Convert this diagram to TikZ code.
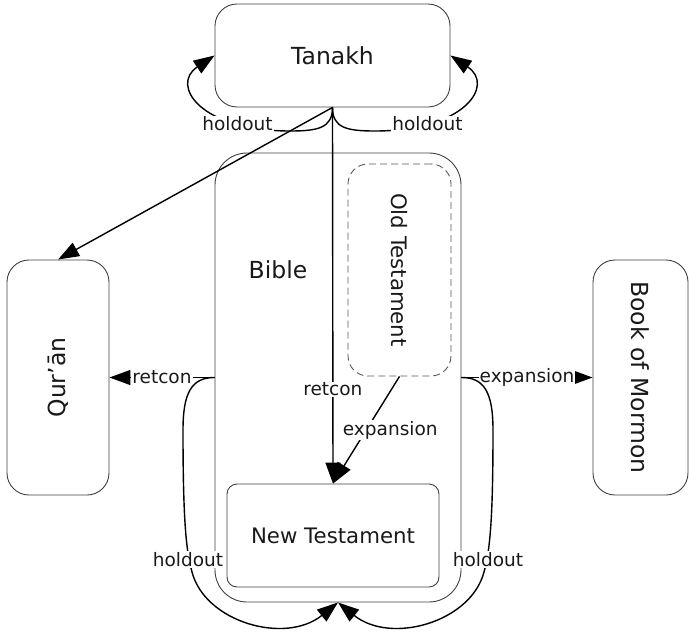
\documentclass[tikz,border=0pt]{standalone}
\usepackage{fontspec}
\setmainfont{DejaVu Sans}
\usepackage{graphicx}
\usetikzlibrary{arrows.meta}
\begin{document}
\begin{tikzpicture}[x=1pt,y=-1pt,
  rbox/.style={draw=black!75, line width=0.9pt, inner sep=0pt, text=black!90},
  big/.style={font=\fontsize{23.5}{28}\selectfont},
  small/.style={font=\fontsize{21.3}{26}\selectfont},
  lab/.style={fill=white, inner sep=1pt, font=\fontsize{18.5}{22}\selectfont, text=black!90},
  conn/.style={draw=black, line width=1.4pt, -{Triangle[length=21pt,width=15pt]}},
]
\useasboundingbox (0,0) rectangle (689,635);
% nodes
\node[rbox,big,rounded corners=22pt,minimum width=235pt,minimum height=103pt] (tanakh) at (332.5,55.5) {Tanakh};
\node[rbox,big,rounded corners=32pt,minimum width=246pt,minimum height=449pt] (bible) at (338,377.5) {};
\node[big, text=black!90, inner sep=0pt] (biblelabel) at (278,269.5) {Bible};
\node[rbox,small,dash pattern=on 7pt off 4pt, draw=black!65, rounded corners=20pt,minimum width=103pt,minimum height=212pt] (ot) at (399.5,270) {\rotatebox{-90}{Old Testament}};
\node[rbox,small,rounded corners=10pt,minimum width=212pt,minimum height=103pt] (nt) at (333,535.5) {New Testament};
\node[rbox,big,rounded corners=22pt,minimum width=102pt,minimum height=235pt] (quran) at (58,377.5) {\rotatebox{90}{Qur’ān}};
\node[rbox,big,rounded corners=22pt,minimum width=95pt,minimum height=235pt] (bom) at (640.5,377.5) {\rotatebox{-90}{Book of Mormon}};
% straight connectors
\draw[conn] (tanakh.south) -- (quran.north);
\draw[conn] (tanakh.south) -- node[lab,pos=0.75]{retcon} (nt.north);
\draw[conn] (ot.south) -- node[lab,pos=0.5,xshift=24pt]{expansion} (nt.north);
\draw[conn] (bible.west) -- node[lab]{retcon} (quran.east);
\draw[conn] (bible.east) -- node[lab]{expansion} (bom.west);
% holdout loops on Tanakh
\draw[conn] (tanakh.south) .. controls (332.5,128) and (318,131) .. (290,131)
  .. controls (200,131) and (170,85) .. (tanakh.west)
  node[lab] at (237.5,124) {holdout};
\draw[conn] (tanakh.south) .. controls (332.5,128) and (347,131) .. (375,131)
  .. controls (465,131) and (495,85) .. (tanakh.east)
  node[lab] at (427.5,124) {holdout};
% holdout loops on Bible
\draw[conn] (bible.west) .. controls (192,377.5) and (183,392) .. (183,430)
  .. controls (183,520) and (186,550) .. (192,572)
  .. controls (205,622) and (285,645) .. (bible.south)
  node[lab] at (188,559.5) {holdout};
\draw[conn] (bible.east) .. controls (484,377.5) and (493,392) .. (493,430)
  .. controls (493,520) and (490,550) .. (484,572)
  .. controls (471,622) and (391,645) .. (bible.south)
  node[lab] at (488,559.5) {holdout};
\end{tikzpicture}
\end{document}
